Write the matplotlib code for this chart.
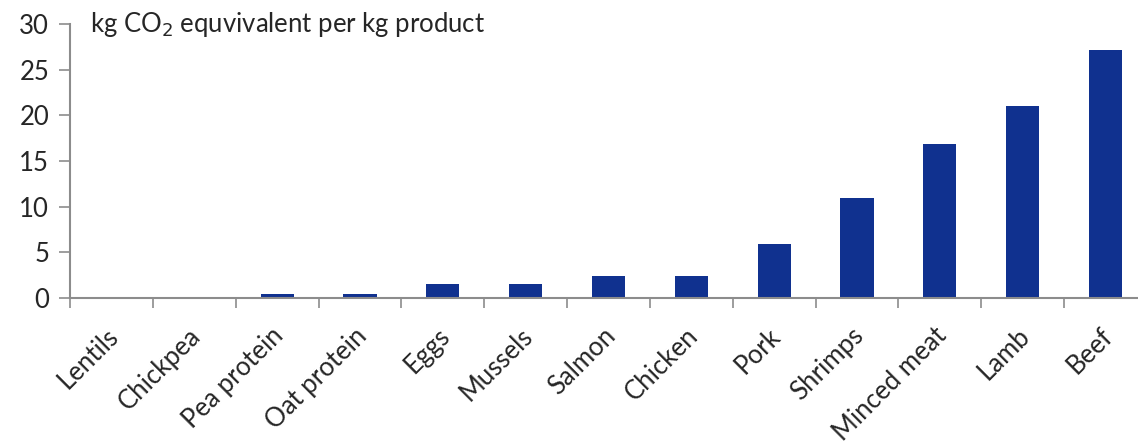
import matplotlib
matplotlib.use("Agg")
import matplotlib.pyplot as plt
import matplotlib.transforms as mtransforms
import numpy as np

products = ["Lentils", "Chickpea", "Pea protein", "Oat protein", "Eggs", "Mussels",
            "Salmon", "Chicken", "Pork", "Shrimps", "Minced meat", "Lamb", "Beef"]
co2_per_kg = [0.0, 0.0, 0.5, 0.5, 1.5, 1.5, 2.4, 2.4, 5.9, 11.0, 16.9, 21.0, 27.2]
y_ticks = [0, 5, 10, 15, 20, 25, 30]

plt.rcParams["font.family"] = ["Lato", "DejaVu Sans"]
bar_color = "#10318f"
axis_color = "#8c8c8c"
text_color = "#262626"

fig = plt.figure(figsize=(11.38, 4.45), dpi=100)
ax = fig.add_axes([0.0615, 0.330, 0.9464, 0.616])

x = np.arange(len(products))
ax.bar(x, co2_per_kg, width=0.4, color=bar_color)

ax.set_xlim(-0.5, len(products) - 0.5)
ax.set_ylim(0, 30)
ax.set_yticks(y_ticks)
ax.tick_params(axis="y", colors=axis_color, labelcolor=text_color, labelsize=18.5,
               length=8, width=1.2, direction="out", pad=7)

ax.set_xticks(x)
ax.set_xticklabels(products, rotation=45, ha="right", va="top",
                   rotation_mode="anchor", fontsize=18.5, color=text_color)
ax.tick_params(axis="x", which="major", length=0, pad=18)
ax.set_xticks(np.arange(len(products)) - 0.5, minor=True)
ax.tick_params(axis="x", which="minor", length=7, width=1.2, colors=axis_color,
               direction="out")

# nudge rotated labels a little to the left
shift = mtransforms.ScaledTranslation(-6 / 100, 0, fig.dpi_scale_trans)
for lbl in ax.get_xticklabels():
    lbl.set_transform(lbl.get_transform() + shift)

for side in ("top", "right"):
    ax.spines[side].set_visible(False)
for side in ("left", "bottom"):
    ax.spines[side].set_color(axis_color)
    ax.spines[side].set_linewidth(1.5)

ax.text(0.0186, 1.0, "kg CO$_2$ equvivalent per kg product", transform=ax.transAxes,
        fontsize=18.5, color=text_color, va="center", ha="left")

fig.savefig("out.png", dpi=100)
